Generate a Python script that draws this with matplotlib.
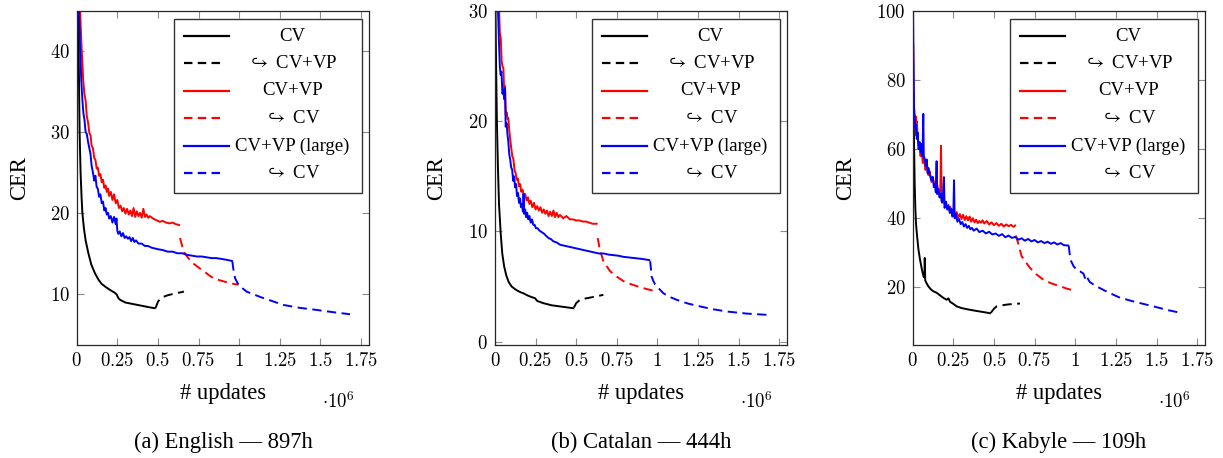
import matplotlib
matplotlib.use("Agg")
import matplotlib.pyplot as plt
from matplotlib.lines import Line2D
from matplotlib.patches import Rectangle
from matplotlib.ticker import FixedLocator, FuncFormatter

plt.rcParams['font.family'] = ['Liberation Serif', 'DejaVu Serif']
plt.rcParams['mathtext.fontset'] = 'cm'

# ---------------- data (x in 1e6 updates, y = CER) ----------------
# (a) English
en_cv_x = [0.008, 0.012, 0.015, 0.018, 0.024, 0.030, 0.035, 0.045, 0.055, 0.072, 0.09, 0.113, 0.135,
           0.154, 0.18, 0.21, 0.235, 0.246, 0.258, 0.27, 0.30, 0.35, 0.40, 0.45, 0.48]
en_cv_y = [45.5, 40, 35, 30, 25, 22, 20, 18, 16.6, 15, 13.6, 12.5, 11.7,
           11.2, 10.8, 10.4, 10.1, 9.9, 9.4, 9.2, 8.9, 8.7, 8.5, 8.3, 8.2]
en_cv_ft_x = [0.485, 0.50, 0.52, 0.56, 0.60, 0.66]
en_cv_ft_y = [8.2, 9.0, 9.5, 9.8, 10.0, 10.25]
en_vp_x = [0.020, 0.030, 0.040, 0.047, 0.055, 0.062, 0.070, 0.078, 0.085, 0.092, 0.100, 0.108, 0.115,
           0.123, 0.130, 0.138, 0.146, 0.154, 0.162, 0.170, 0.178, 0.185, 0.193, 0.200, 0.210, 0.220,
           0.230, 0.240, 0.250, 0.260, 0.270, 0.280, 0.290, 0.300, 0.310, 0.320, 0.330, 0.340, 0.350,
           0.360, 0.370, 0.380, 0.390, 0.400, 0.410, 0.420, 0.430, 0.440, 0.450, 0.470, 0.490, 0.510,
           0.530, 0.550, 0.570, 0.590, 0.610, 0.630]
en_vp_y = [45.5, 40.5, 36.5, 34.8, 33.9, 32.0, 31.2, 29.9, 29.6, 28.3, 28.0, 26.8, 26.6,
           25.5, 25.6, 24.6, 24.8, 23.8, 24.1, 23.1, 23.4, 22.6, 23.0, 22.1, 22.6, 21.6,
           22.3, 21.2, 21.6, 20.6, 20.9, 20.2, 20.6, 19.9, 20.5, 19.8, 20.3, 19.6, 20.6,
           19.5, 20.2, 19.6, 20.0, 19.4, 20.5, 19.5, 19.8, 19.4, 19.6, 19.3, 19.1, 18.9,
           19.0, 18.8, 18.7, 18.8, 18.6, 18.5]
en_vp_ft_x = [0.636, 0.65, 0.665, 0.687, 0.72, 0.759, 0.80, 0.841, 0.89, 0.944, 0.995]
en_vp_ft_y = [16.9, 15.8, 15.0, 14.4, 13.7, 13.1, 12.5, 11.9, 11.6, 11.3, 11.1]
en_lg_x = [0.014, 0.020, 0.028, 0.035, 0.041, 0.048, 0.055, 0.062, 0.070, 0.078, 0.085, 0.092, 0.100,
           0.108, 0.115, 0.123, 0.130, 0.138, 0.146, 0.154, 0.162, 0.170, 0.178, 0.185, 0.193, 0.200,
           0.210, 0.220, 0.230, 0.240, 0.245, 0.250, 0.256, 0.265, 0.275, 0.285, 0.295, 0.305, 0.315,
           0.325, 0.335, 0.345, 0.355, 0.365, 0.38, 0.40, 0.42, 0.44, 0.46, 0.48, 0.50, 0.53, 0.56,
           0.59, 0.62, 0.65, 0.68, 0.71, 0.74, 0.77, 0.80, 0.83, 0.86, 0.89, 0.92, 0.955]
en_lg_y = [45.5, 41.0, 36.5, 34.0, 32.4, 31.5, 30.0, 29.8, 28.8, 28.0, 27.3, 25.8, 25.0,
           24.0, 24.6, 23.2, 23.0, 22.0, 22.3, 21.2, 21.4, 20.3, 20.6, 19.8, 20.0, 19.3,
           19.6, 18.8, 19.5, 18.6, 19.3, 17.8, 17.4, 17.7, 17.1, 17.5, 16.9, 17.1, 16.8,
           17.0, 16.5, 16.9, 16.4, 16.6, 16.2, 16.2, 15.9, 15.9, 15.7, 15.6, 15.5, 15.4, 15.2,
           15.2, 15.0, 15.0, 14.8, 14.7, 14.6, 14.6, 14.5, 14.4, 14.4, 14.3, 14.2, 14.05]
en_lg_ft_x = [0.958, 0.962, 0.968, 0.975, 0.99, 1.005, 1.046, 1.09, 1.128, 1.2, 1.272, 1.37, 1.477, 1.58, 1.682]
en_lg_ft_y = [14.0, 13.3, 12.6, 11.9, 11.3, 10.9, 10.25, 9.9, 9.6, 9.1, 8.6, 8.25, 7.98, 7.7, 7.45]

# (b) Catalan
ca_cv_x = [0.003, 0.007, 0.012, 0.018, 0.025, 0.035, 0.045, 0.057, 0.070, 0.085, 0.103, 0.13, 0.155,
           0.174, 0.20, 0.225, 0.246, 0.26, 0.297, 0.35, 0.40, 0.45, 0.482]
ca_cv_y = [30.5, 25, 20, 16, 12.5, 9.9, 8.0, 6.8, 6.0, 5.4, 5.0, 4.7, 4.5,
           4.4, 4.2, 4.05, 3.95, 3.7, 3.5, 3.3, 3.2, 3.1, 3.04]
ca_cv_ft_x = [0.486, 0.50, 0.523, 0.55, 0.585, 0.62, 0.667]
ca_cv_ft_y = [3.1, 3.5, 3.8, 3.9, 4.0, 4.1, 4.25]
ca_vp_x = [0.025, 0.030, 0.036, 0.041, 0.046, 0.052, 0.057, 0.062, 0.067, 0.072, 0.077, 0.082, 0.088,
           0.095, 0.100, 0.107, 0.113, 0.120, 0.127, 0.134, 0.141, 0.148, 0.155, 0.162, 0.170, 0.178,
           0.186, 0.195, 0.203, 0.212, 0.220, 0.230, 0.240, 0.250, 0.260, 0.270, 0.280, 0.290, 0.300,
           0.310, 0.320, 0.330, 0.340, 0.350, 0.360, 0.370, 0.380, 0.390, 0.400, 0.420, 0.440, 0.460,
           0.480, 0.500, 0.520, 0.540, 0.560, 0.580, 0.600, 0.626]
ca_vp_y = [30.5, 28.0, 27.5, 25.5, 25.0, 24.8, 22.5, 23.2, 20.5, 20.8, 20.2, 20.3, 19.2,
           18.2, 17.6, 16.8, 16.6, 15.6, 15.3, 14.7, 14.8, 14.1, 14.3, 13.6, 13.8, 13.2,
           13.4, 12.8, 13.1, 12.5, 12.8, 12.2, 12.6, 12.0, 12.3, 11.9, 12.2, 11.7, 12.0,
           11.6, 11.9, 11.4, 11.8, 11.4, 11.9, 11.3, 11.7, 11.3, 11.5, 11.2, 11.4, 11.1,
           11.1, 11.0, 11.0, 10.9, 10.9, 10.8, 10.7, 10.7]
ca_vp_ft_x = [0.632, 0.645, 0.667, 0.69, 0.708, 0.75, 0.79, 0.84, 0.892, 0.94, 0.995]
ca_vp_ft_y = [9.4, 8.4, 7.3, 6.8, 6.4, 5.9, 5.5, 5.2, 4.95, 4.75, 4.56]
ca_lg_x = [0.018, 0.024, 0.030, 0.035, 0.040, 0.046, 0.052, 0.057, 0.062, 0.066, 0.072, 0.077, 0.082,
           0.088, 0.094, 0.100, 0.106, 0.112, 0.118, 0.124, 0.130, 0.136, 0.142, 0.148, 0.154, 0.160,
           0.166, 0.172, 0.176, 0.180, 0.186, 0.192, 0.198, 0.205, 0.212, 0.220, 0.228, 0.236, 0.244,
           0.252, 0.262, 0.272, 0.282, 0.292, 0.302, 0.315, 0.330, 0.345, 0.36, 0.38, 0.40, 0.43,
           0.46, 0.49, 0.52, 0.55, 0.58, 0.61, 0.64, 0.67, 0.70, 0.73, 0.76, 0.79, 0.82, 0.85,
           0.88, 0.91, 0.95]
ca_lg_y = [30.5, 27.5, 25.0, 24.2, 24.5, 22.5, 22.8, 22.0, 23.0, 19.5, 19.8, 18.8, 18.2,
           17.0, 16.5, 15.8, 15.6, 14.6, 15.0, 14.0, 14.3, 13.2, 13.5, 12.6, 13.0, 12.2,
           12.5, 11.8, 13.4, 11.6, 12.0, 11.3, 11.7, 11.1, 11.4, 10.8, 11.1, 10.6, 10.6,
           10.3, 10.3, 10.1, 10.0, 9.9, 9.8, 9.6, 9.4, 9.3, 9.1, 9.0, 8.8, 8.7,
           8.6, 8.5, 8.4, 8.3, 8.2, 8.1, 8.0, 8.0, 7.9, 7.85, 7.8, 7.7, 7.65, 7.6,
           7.55, 7.5, 7.4]
ca_lg_ft_x = [0.955, 0.96, 0.964, 0.975, 0.985, 1.01, 1.036, 1.07, 1.118, 1.19, 1.262, 1.34, 1.426, 1.55, 1.682]
ca_lg_ft_y = [7.3, 6.6, 5.9, 5.5, 5.2, 4.8, 4.4, 4.1, 3.8, 3.45, 3.2, 2.95, 2.74, 2.55, 2.43]

# (c) Kabyle
ka_cv_x = [0.004, 0.008, 0.012, 0.016, 0.020, 0.025, 0.035, 0.045, 0.055, 0.066, 0.072, 0.074, 0.077,
           0.085, 0.096, 0.11, 0.125, 0.148, 0.17, 0.19, 0.209, 0.22, 0.23, 0.25, 0.27, 0.30, 0.352,
           0.40, 0.44, 0.475]
ka_cv_y = [76, 62, 50, 43, 38.5, 35.8, 31, 28, 25.5, 23.2, 22.8, 28.5, 22.0,
           21.2, 20.3, 19.5, 18.9, 18.4, 17.6, 16.9, 16.4, 16.8, 15.8, 15.2, 14.5, 14.0, 13.5,
           13.1, 12.8, 12.5]
ka_cv_ft_x = [0.48, 0.50, 0.516, 0.54, 0.578, 0.62, 0.66]
ka_cv_ft_y = [12.6, 13.8, 14.5, 14.7, 15.0, 15.2, 15.3]
ka_vp_x = [0.003, 0.006, 0.010, 0.014, 0.018, 0.022, 0.026, 0.030, 0.036, 0.042, 0.048, 0.055, 0.062,
           0.070, 0.078, 0.086, 0.096, 0.105, 0.115, 0.125, 0.137, 0.150, 0.160, 0.170, 0.174, 0.178,
           0.185, 0.195, 0.209, 0.22, 0.23, 0.24, 0.25, 0.26, 0.27, 0.28, 0.29, 0.30, 0.31, 0.32,
           0.33, 0.34, 0.35, 0.36, 0.37, 0.38, 0.39, 0.40, 0.41, 0.42, 0.43, 0.44, 0.455, 0.47,
           0.485, 0.50, 0.515, 0.53, 0.545, 0.56, 0.575, 0.59, 0.605, 0.62, 0.63]
ka_vp_y = [90, 75, 70, 66, 69.5, 64, 68, 63, 61, 62, 58, 60, 56,
           57.5, 54, 55, 52.5, 53.5, 50.5, 51.5, 49, 50, 47, 48.5, 61, 45,
           47, 44, 43.5, 42.5, 43.3, 41.8, 42.6, 40.6, 41.8, 40.2, 41.2, 39.8, 41.0, 39.5,
           40.6, 39.4, 40.5, 39.0, 40.0, 38.8, 39.6, 38.6, 39.2, 38.7, 39.4, 38.5, 39.2, 38.2,
           38.8, 38.0, 38.6, 37.8, 38.4, 37.6, 38.2, 37.7, 38.1, 37.5, 37.9]
ka_vp_ft_x = [0.635, 0.65, 0.67, 0.70, 0.722, 0.76, 0.804, 0.85, 0.906, 0.95, 0.998]
ka_vp_ft_y = [35, 32.5, 29, 27, 25.6, 23.8, 22.2, 21.2, 20.3, 19.6, 19.0]
ka_lg_x = [0.002, 0.005, 0.008, 0.012, 0.016, 0.020, 0.025, 0.031, 0.036, 0.042, 0.048, 0.055, 0.060,
           0.065, 0.068, 0.075, 0.080, 0.086, 0.092, 0.098, 0.107, 0.115, 0.123, 0.130, 0.137, 0.142,
           0.147, 0.150, 0.158, 0.165, 0.172, 0.180, 0.186, 0.192, 0.196, 0.205, 0.212, 0.220, 0.228,
           0.236, 0.244, 0.250, 0.254, 0.258, 0.265, 0.275, 0.285, 0.295, 0.305, 0.315, 0.325, 0.335,
           0.345, 0.355, 0.365, 0.375, 0.393, 0.41, 0.43, 0.45, 0.47, 0.49, 0.51, 0.53, 0.55, 0.57,
           0.59, 0.61, 0.63, 0.65, 0.67, 0.69, 0.71, 0.73, 0.75, 0.77, 0.79, 0.81, 0.83, 0.85, 0.87,
           0.89, 0.91, 0.93, 0.957]
ka_lg_y = [100.5, 85, 72, 69, 66, 67, 63, 64.8, 60, 62, 59, 61.5, 58,
           70.2, 58, 57, 55, 57, 53, 54.5, 52.3, 51, 52, 49, 50, 47.5,
           56.5, 47, 48.5, 46, 47.2, 44.5, 46.5, 51.9, 43, 44.8, 42.5, 43.8, 41.5,
           42.8, 40.5, 41.5, 51, 40, 41.2, 39, 39.8, 38.3, 38.9, 37.6, 38.3, 37.2,
           37.8, 36.8, 37.2, 36.4, 37, 36, 36.4, 35.6, 36.1, 35.3, 35.6, 34.9, 35.4, 34.5,
           35.0, 34.3, 34.6, 33.8, 34.2, 33.5, 34.0, 33.3, 33.7, 33.0, 33.4, 32.8, 33.2, 32.6, 33.0,
           32.4, 32.8, 32.2, 32.1]
ka_lg_ft_x = [0.96, 0.965, 0.97, 0.99, 1.01, 1.03, 1.05, 1.06, 1.065, 1.09, 1.13, 1.2, 1.27, 1.35, 1.48, 1.57, 1.66]
ka_lg_ft_y = [32, 30, 28, 26.1, 25, 24.6, 24, 22.7, 23.5, 21.5, 20.3, 18.6, 17.1, 16, 14.5, 13.4, 12.5]

x_ticks = [0, 0.25, 0.5, 0.75, 1, 1.25, 1.5, 1.75]
x_tick_labels = ['0', '0.25', '0.5', '0.75', '1', '1.25', '1.5', '1.75']
en_y_ticks = [10, 20, 30, 40]
ca_y_ticks = [0, 10, 20, 30]
ka_y_ticks = [20, 40, 60, 80, 100]
legend_labels = ['CV', r'${\hookrightarrow}$ CV+VP', 'CV+VP', r'${\hookrightarrow}$ CV',
                 'CV+VP (large)', r'${\hookrightarrow}$ CV']
captions = ['(a) English — 897h', '(b) Catalan — 444h', '(c) Kabyle — 109h']

# ---------------- figure ----------------
fig = plt.figure(figsize=(12.23, 4.58), dpi=100)
lefts = [0.0627, 0.4047, 0.7463]
bottom, width, height = 0.2467, 0.2392, 0.7293
ylims = [(3.64, 45), (-0.3, 30), (3.3, 100)]
yticks_all = [en_y_ticks, ca_y_ticks, ka_y_ticks]
ylabel_x = [-0.194, -0.200, -0.231]

panels = [
    [(en_cv_x, en_cv_y), (en_cv_ft_x, en_cv_ft_y), (en_vp_x, en_vp_y), (en_vp_ft_x, en_vp_ft_y),
     (en_lg_x, en_lg_y), (en_lg_ft_x, en_lg_ft_y)],
    [(ca_cv_x, ca_cv_y), (ca_cv_ft_x, ca_cv_ft_y), (ca_vp_x, ca_vp_y), (ca_vp_ft_x, ca_vp_ft_y),
     (ca_lg_x, ca_lg_y), (ca_lg_ft_x, ca_lg_ft_y)],
    [(ka_cv_x, ka_cv_y), (ka_cv_ft_x, ka_cv_ft_y), (ka_vp_x, ka_vp_y), (ka_vp_ft_x, ka_vp_ft_y),
     (ka_lg_x, ka_lg_y), (ka_lg_ft_x, ka_lg_ft_y)],
]
colors = ['black', 'black', '#ff0000', '#ff0000', '#0000ff', '#0000ff']
dashed = [False, True, False, True, False, True]
LW = 1.4
DASH = (4.8, 2.8)

tick_fmt = FuncFormatter(lambda v, p: '$%s$' % ('%g' % v))

for i in range(3):
    ax = fig.add_axes([lefts[i], bottom, width, height])
    for (xs, ys), c, d in zip(panels[i], colors, dashed):
        ln, = ax.plot(xs, ys, color=c, lw=LW, solid_joinstyle='round')
        if d:
            ln.set_dashes(DASH)
    ax.set_xlim(0, 1.80)
    ax.set_ylim(*ylims[i])
    ax.xaxis.set_major_locator(FixedLocator(x_ticks))
    ax.set_xticklabels(['$%s$' % t for t in x_tick_labels])
    ax.yaxis.set_major_locator(FixedLocator(yticks_all[i]))
    ax.yaxis.set_major_formatter(tick_fmt)
    ax.tick_params(direction='in', length=5, width=0.8, color='#8c8c8c', top=True, right=True,
                   labelsize=13.5, pad=5)
    for sp in ax.spines.values():
        sp.set_color('#262626')
        sp.set_linewidth(0.9)
    ax.set_xlabel('# updates', fontsize=16.3)
    ax.xaxis.set_label_coords(0.5, -0.115)
    ax.set_ylabel('CER', fontsize=16.3)
    ax.yaxis.label.set_verticalalignment('center')
    ax.yaxis.set_label_coords(ylabel_x[i], 0.5)
    ax.text(0.895, -0.17, r'$\cdot 10^{6}$', transform=ax.transAxes, fontsize=13.5,
            ha='center', va='center')

    # legend box (centered labels as in the original)
    ax.add_patch(Rectangle((0.333, 0.455), 0.643, 0.521, transform=ax.transAxes,
                           facecolor='white', edgecolor='#333333', lw=1.0, zorder=5))
    for k, (lab, c, d) in enumerate(zip(legend_labels, colors, dashed)):
        yy = 0.925 - k * 0.0822
        h = Line2D([0.367, 0.521 if not d else 0.505], [yy, yy], transform=ax.transAxes,
                   color=c, lw=LW + 0.2, zorder=6)
        if d:
            h.set_dashes((3.8, 2.4))
        ax.add_line(h)
        ax.text(0.737, yy, lab, transform=ax.transAxes, fontsize=13.5, ha='center',
                va='center', zorder=6)

    fig.text(lefts[i] + width / 2, 0.035, captions[i], fontsize=16.3, ha='center', va='center')

fig.savefig('out.png', dpi=100)
